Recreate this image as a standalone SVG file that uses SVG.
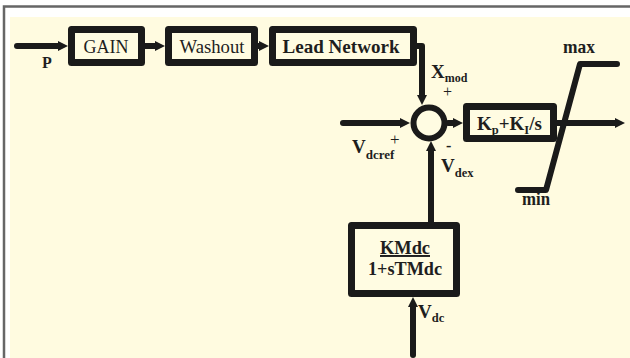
<svg xmlns="http://www.w3.org/2000/svg" width="630" height="358" viewBox="0 0 630 358">
<defs>
<style>
.box{fill:#FFFCE2;stroke:#1a1a1a;stroke-width:7;stroke-linejoin:round}
.ln{fill:none;stroke:#1a1a1a;stroke-width:6;stroke-linecap:round;stroke-linejoin:round}
.t{font-family:"Liberation Serif","Times New Roman",serif;fill:#1e1e1e}
.b{font-weight:bold}
.m{text-anchor:middle}
</style>
<marker id="ah" markerUnits="userSpaceOnUse" viewBox="0 0 10 10" markerWidth="10" markerHeight="10" refX="0" refY="5" orient="auto">
<path d="M0,0 L10,5 L0,10 z" fill="#1a1a1a"/>
</marker>
</defs>
<rect x="0" y="0" width="630" height="358" fill="#ffffff"/>
<rect x="10" y="17" width="620" height="341" fill="#FFFBE0"/>
<path d="M4,358 V6.5 H630" fill="none" stroke="#666666" stroke-width="2.5"/>

<g id="connectors">
<path class="ln" d="M17,46 H58" marker-end="url(#ah)"/>
<path class="ln" d="M145,46 H155" marker-end="url(#ah)"/>
<path class="ln" d="M258,46 H259" marker-end="url(#ah)"/>
<path class="ln" d="M416,46 H422 V95" marker-end="url(#ah)"/>
<path class="ln" d="M343,123 H400" marker-end="url(#ah)"/>
<path class="ln" d="M448,123 H453" marker-end="url(#ah)"/>
<path class="ln" d="M557,123 H615" marker-end="url(#ah)"/>
<path class="ln" d="M431,222 V151" marker-end="url(#ah)"/>
<path class="ln" d="M413,355 V307" marker-end="url(#ah)"/>
</g>

<g id="gain">
<rect class="box" x="71.5" y="29.5" width="70" height="33"/>
<text class="t m" x="106" y="53" font-size="19.5" textLength="45" lengthAdjust="spacingAndGlyphs">GAIN</text>
</g>
<g id="washout">
<rect class="box" x="168.5" y="29.5" width="86" height="33"/>
<text class="t m" x="212" y="53" font-size="19.5" textLength="65" lengthAdjust="spacingAndGlyphs">Washout</text>
</g>
<g id="lead-network">
<rect class="box" x="272.5" y="29.5" width="141" height="33"/>
<text class="t b m" x="341" y="52.5" font-size="19.5" textLength="117" lengthAdjust="spacingAndGlyphs">Lead Network</text>
</g>
<g id="sum">
<circle cx="429" cy="123" r="15.5" fill="#FFFCE2" stroke="#1a1a1a" stroke-width="6"/>
</g>
<g id="pi">
<rect class="box" x="466.5" y="106.5" width="87" height="32"/>
<text class="t b" x="477" y="130" font-size="19">K<tspan font-size="12.5" dy="4">p</tspan><tspan dy="-4">+K</tspan><tspan font-size="12.5" dy="4">I</tspan><tspan dy="-4">/s</tspan></text>
</g>
<g id="limiter">
<polyline class="ln" points="518,190 546,190 580,64 617,64"/>
<text class="t b" x="563" y="53" font-size="19" textLength="32" lengthAdjust="spacingAndGlyphs">max</text>
<text class="t b" x="522" y="205" font-size="19" textLength="28" lengthAdjust="spacingAndGlyphs">min</text>
</g>
<g id="filter">
<rect class="box" x="351.5" y="225.5" width="105" height="68"/>
<text class="t b m" x="405" y="254" font-size="19.5" text-decoration="underline" textLength="50" lengthAdjust="spacingAndGlyphs">KMdc</text>
<text class="t b m" x="405" y="275" font-size="19.5" textLength="74" lengthAdjust="spacingAndGlyphs">1+sTMdc</text>
</g>

<g id="labels">
<text class="t b" x="42" y="68" font-size="16">P</text>
<text class="t b" x="431" y="78" font-size="19">X<tspan font-size="12" dy="4">mod</tspan></text>
<text class="t" x="443" y="97" font-size="16">+</text>
<text class="t b" x="352" y="153" font-size="19">V<tspan font-size="13" dy="6">dcref</tspan></text>
<text class="t" x="390" y="145" font-size="17">+</text>
<text class="t b" x="446" y="151" font-size="16">-</text>
<text class="t b" x="441" y="172" font-size="19">V<tspan font-size="12.5" dy="5">dex</tspan></text>
<text class="t b" x="418" y="318" font-size="19">V<tspan font-size="12.5" dy="4">dc</tspan></text>
</g>
</svg>
